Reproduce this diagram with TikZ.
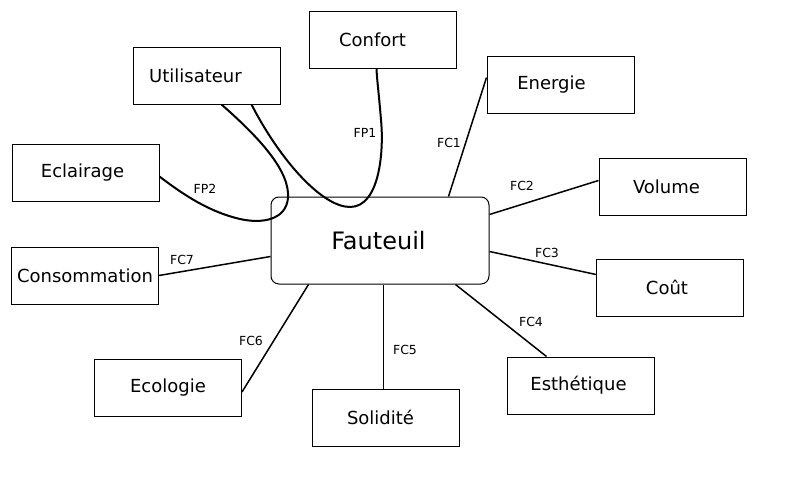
\documentclass[tikz,border=0pt]{standalone}
\usepackage{fontspec}
\setmainfont{DejaVu Sans}
\usetikzlibrary{calc}
\begin{document}
\begin{tikzpicture}[x=1pt,y=-1pt,
  box/.style={draw,line width=1pt,minimum width=147pt,minimum height=57pt,inner sep=0pt,font=\fontsize{18}{20}\selectfont},
  center/.style={draw,line width=1pt,rounded corners=8pt,minimum width=218pt,minimum height=87pt,inner sep=0pt,font=\fontsize{24}{28}\selectfont},
  link/.style={line width=1.5pt},
  curve/.style={line width=2pt},
  lab/.style={font=\fontsize{12.5}{14}\selectfont,inner sep=0pt}]
\useasboundingbox (0,0) rectangle (787,485);
\node[center] (F) at (380,240.5) {Fauteuil\kern3pt};
\node[box] (Co) at (382.5,40) {Confort\kern20pt};
\node[box] (U) at (206.5,75.5) {Utilisateur\kern22pt};
\node[box] (En) at (560.5,84.5) {Energie\kern18pt};
\node[box] (V) at (672.5,186.5) {Volume\kern12pt};
\node[box] (Ct) at (670,287.5) {Coût\kern6pt};
\node[box] (Es) at (580.5,385.5) {Esthétique\kern4pt};
\node[box] (Ec) at (85.5,172.5) {Eclairage\kern6pt};
\node[box] (Cs) at (85,275.5) {Consommation};
\node[box] (S) at (385.5,417.5) {Solidité\kern10pt};
\node[box] (Eg) at (168,388) {Ecologie};
% FC links
\draw[link] (F.north west) ++(178,0) -- ($(En.north west)+(0,22)$);
\draw[link] (F.north east) ++(0,18) -- ($(V.north west)+(0,23)$);
\draw[link] (F.north east) ++(0,55) -- ($(Ct.north west)+(0,16)$);
\draw[link] (F.south west) ++(185,0) -- ($(Es.north west)+(40,0)$);
\draw[link] (F.south west) ++(113,0) -- ($(S.north west)+(72,0)$);
\draw[link] (F.south west) ++(38,0) -- ($(Eg.north east)+(0,33)$);
\draw[link] (F.north west) ++(0,60) -- (Cs.east);
% FP curves
\draw[curve] ($(U.south west)+(119,0)$) .. controls (280,160) and (322,207) .. (350,207)
  .. controls (380,207) and (384,150) .. (381,120) .. controls (379,95) and (377,80) .. ($(Co.south)+(-6,0)$);
\draw[curve] ($(U.south west)+(89,0)$) .. controls (262,140) and (290,172) .. (288,198)
  .. controls (286,220) and (262,224) .. (240,219) .. controls (210,212) and (185,196) .. ($(Ec.east)+(0,4)$);
% labels
\node[lab] (l1) at (449,143) {FC1};
\node[lab] (l2) at (522,186) {FC2};
\node[lab] (l3) at (547,253) {FC3};
\node[lab] (l4) at (531,322) {FC4};
\node[lab] (l5) at (405,350) {FC5};
\node[lab] (l6) at (251,341) {FC6};
\node[lab] (l7) at (182,260) {FC7};
\node[lab] (p1) at (365,133) {FP1};
\node[lab] (p2) at (205,189) {FP2};
\end{tikzpicture}
\end{document}
